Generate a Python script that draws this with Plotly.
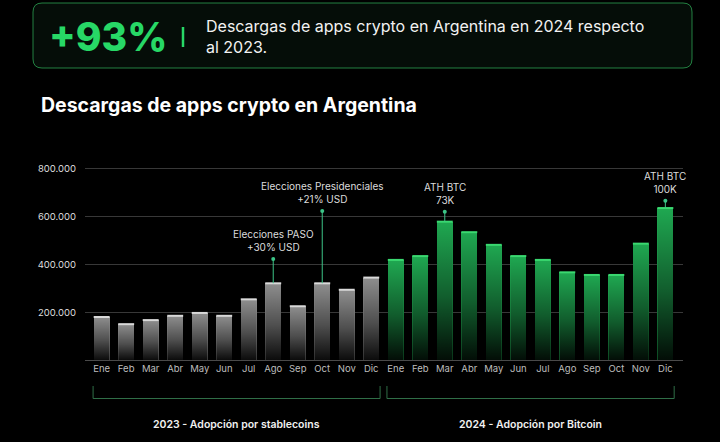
import plotly.graph_objects as go

# ---------------- data ----------------
months = ["Ene", "Feb", "Mar", "Abr", "May", "Jun", "Jul", "Ago", "Sep", "Oct", "Nov", "Dic"]
downloads_2023 = [180000, 150000, 167000, 185000, 197000, 185000, 254000, 321000, 225000, 321000, 294000, 345000]
downloads_2024 = [419000, 435000, 579000, 535000, 482000, 435000, 419000, 367000, 356000, 356000, 487000, 636000]
y_tick_vals = [200000, 400000, 600000, 800000]
y_tick_text = ["200.000", "400.000", "600.000", "800.000"]
event_index = [7, 9, 14, 23]
event_marker = [423000, 624000, 621000, 667000]
event_text = ["Elecciones PASO<br>+30% USD", "Elecciones Presidenciales<br>+21% USD",
              "ATH BTC<br>73K", "ATH BTC<br>100K"]
group_labels = ["2023 - Adopción por stablecoins", "2024 - Adopción por Bitcoin"]
headline_value = "+93%"
headline_text = "Descargas de apps crypto en Argentina en 2024 respecto<br>al 2023."
title_text = "Descargas de apps crypto en Argentina"

# ---------------- geometry helpers ----------------
W, H = 720, 442
ML, MR, MT, MB = 85, 37, 150, 82
PW, PH = W - ML - MR, H - MT - MB


def px(x):
    return (x - ML) / PW


def py(y):
    return (H - MB - y) / PH


values = downloads_2023 + downloads_2024
xs = list(range(len(values)))
labels = months + months
BW = 0.65
hw = BW / 2
FONT = "Inter, Noto Sans, sans-serif"

fig = go.Figure()

# base bars
bar_colors = ["#8e8e8e"] * 12 + ["#1fa851"] * 12
fig.add_trace(go.Bar(x=xs, y=values, width=BW, marker=dict(color=bar_colors, line=dict(width=0)),
                     hoverinfo="skip", showlegend=False))

# gradient shading on each bar
for i, v in zip(xs, values):
    fig.add_trace(go.Scatter(
        x=[i - hw, i - hw, i + hw, i + hw, i - hw], y=[0, v, v, 0, 0],
        mode="lines", line=dict(width=0), fill="toself",
        fillgradient=dict(type="vertical",
                          colorscale=[[0, "rgba(0,0,0,0.92)"], [0.45, "rgba(0,0,0,0.45)"], [1, "rgba(0,0,0,0)"]]),
        hoverinfo="skip", showlegend=False))

# top highlight edges
for seg, col in ((range(0, 12), "#d9d9d9"), (range(12, 24), "#3ad870")):
    ex, ey = [], []
    for i in seg:
        ex += [i - hw, i + hw, None]
        ey += [values[i], values[i], None]
    fig.add_trace(go.Scatter(x=ex, y=ey, mode="lines", line=dict(color=col, width=2),
                             hoverinfo="skip", showlegend=False))

# event connectors
cx, cy = [], []
for i, m in zip(event_index, event_marker):
    cx += [i, i, None]
    cy += [values[i], m, None]
fig.add_trace(go.Scatter(x=cx, y=cy, mode="lines", line=dict(color="#3cc487", width=1),
                         hoverinfo="skip", showlegend=False))
fig.add_trace(go.Scatter(x=event_index, y=event_marker, mode="markers",
                         marker=dict(color="#3cc487", size=4), hoverinfo="skip", showlegend=False))

annotations = []
for i, m, t in zip(event_index, event_marker, event_text):
    annotations.append(dict(x=i, y=m, xref="x", yref="y", text=t, showarrow=False,
                            yanchor="bottom", yshift=4,
                            font=dict(family=FONT, size=10, color="#dcdcdc")))

# group labels and brackets
shapes = []
brackets = [(-0.35, 11.36), (11.64, 23.36)]
for (a, b), lab in zip(brackets, group_labels):
    shapes.append(dict(type="path", xref="x", yref="paper",
                       path=f"M {a},{py(386)} L {a},{py(398.5)} L {b},{py(398.5)} L {b},{py(386)}",
                       line=dict(color="#2f6e47", width=1)))
    annotations.append(dict(x=(a + b) / 2, y=py(424), xref="x", yref="paper", text=lab,
                            showarrow=False, yanchor="middle",
                            font=dict(family=FONT, size=10.5, color="#f0f0f0", weight=600)))

# top box (rounded)
x0, x1, y0, y1, r = 33, 692, 3, 68, 9
rx, ry = r / PW, r / PH
X0, X1, Y0, Y1 = px(x0), px(x1), py(y0), py(y1)
path = (f"M {X0 + rx},{Y0} L {X1 - rx},{Y0} Q {X1},{Y0} {X1},{Y0 - ry} "
        f"L {X1},{Y1 + ry} Q {X1},{Y1} {X1 - rx},{Y1} L {X0 + rx},{Y1} "
        f"Q {X0},{Y1} {X0},{Y1 + ry} L {X0},{Y0 - ry} Q {X0},{Y0} {X0 + rx},{Y0} Z")
shapes.append(dict(type="path", xref="paper", yref="paper", path=path,
                   fillcolor="#050d08", line=dict(color="rgba(45,170,85,0.75)", width=1), layer="below"))
shapes.append(dict(type="line", xref="paper", yref="paper", x0=px(183), x1=px(183), y0=py(27), y1=py(47),
                   line=dict(color="#27d866", width=2.5)))

annotations.append(dict(x=px(47), y=py(37), xref="paper", yref="paper", text=headline_value,
                        showarrow=False, xanchor="left", yanchor="middle",
                        font=dict(family=FONT, size=39, color="#27d866", weight=800)))
annotations.append(dict(x=px(204), y=py(37), xref="paper", yref="paper", text=headline_text,
                        showarrow=False, xanchor="left", yanchor="middle", align="left",
                        font=dict(family=FONT, size=16, color="#f2f2f2")))
annotations.append(dict(x=px(39), y=py(105), xref="paper", yref="paper", text=title_text,
                        showarrow=False, xanchor="left", yanchor="middle",
                        font=dict(family=FONT, size=19.5, color="#ffffff", weight=700)))

fig.update_layout(
    width=W, height=H, margin=dict(l=ML, r=MR, t=MT, b=MB),
    paper_bgcolor="#000000", plot_bgcolor="#000000",
    showlegend=False, bargap=0,
    shapes=shapes, annotations=annotations,
    xaxis=dict(range=[-0.68, 23.72], tickvals=xs, ticktext=labels, showgrid=False, zeroline=False,
               showline=True, linecolor="#4a4a4a", linewidth=1, ticks="", fixedrange=True,
               tickfont=dict(family=FONT, size=9.5, color="#bdbdbd")),
    yaxis=dict(range=[0, 879000], tickvals=y_tick_vals, ticktext=y_tick_text,
               showgrid=True, gridcolor="rgba(255,255,255,0.22)", gridwidth=1, zeroline=False,
               layer="above traces", ticks="", ticklabelstandoff=8, fixedrange=True,
               tickfont=dict(family=FONT, size=9.5, color="#dedede")),
)

fig.write_html("out.html", config={"displayModeBar": False},
               post_script="document.body.style.margin='0';document.body.style.background='#000';")
